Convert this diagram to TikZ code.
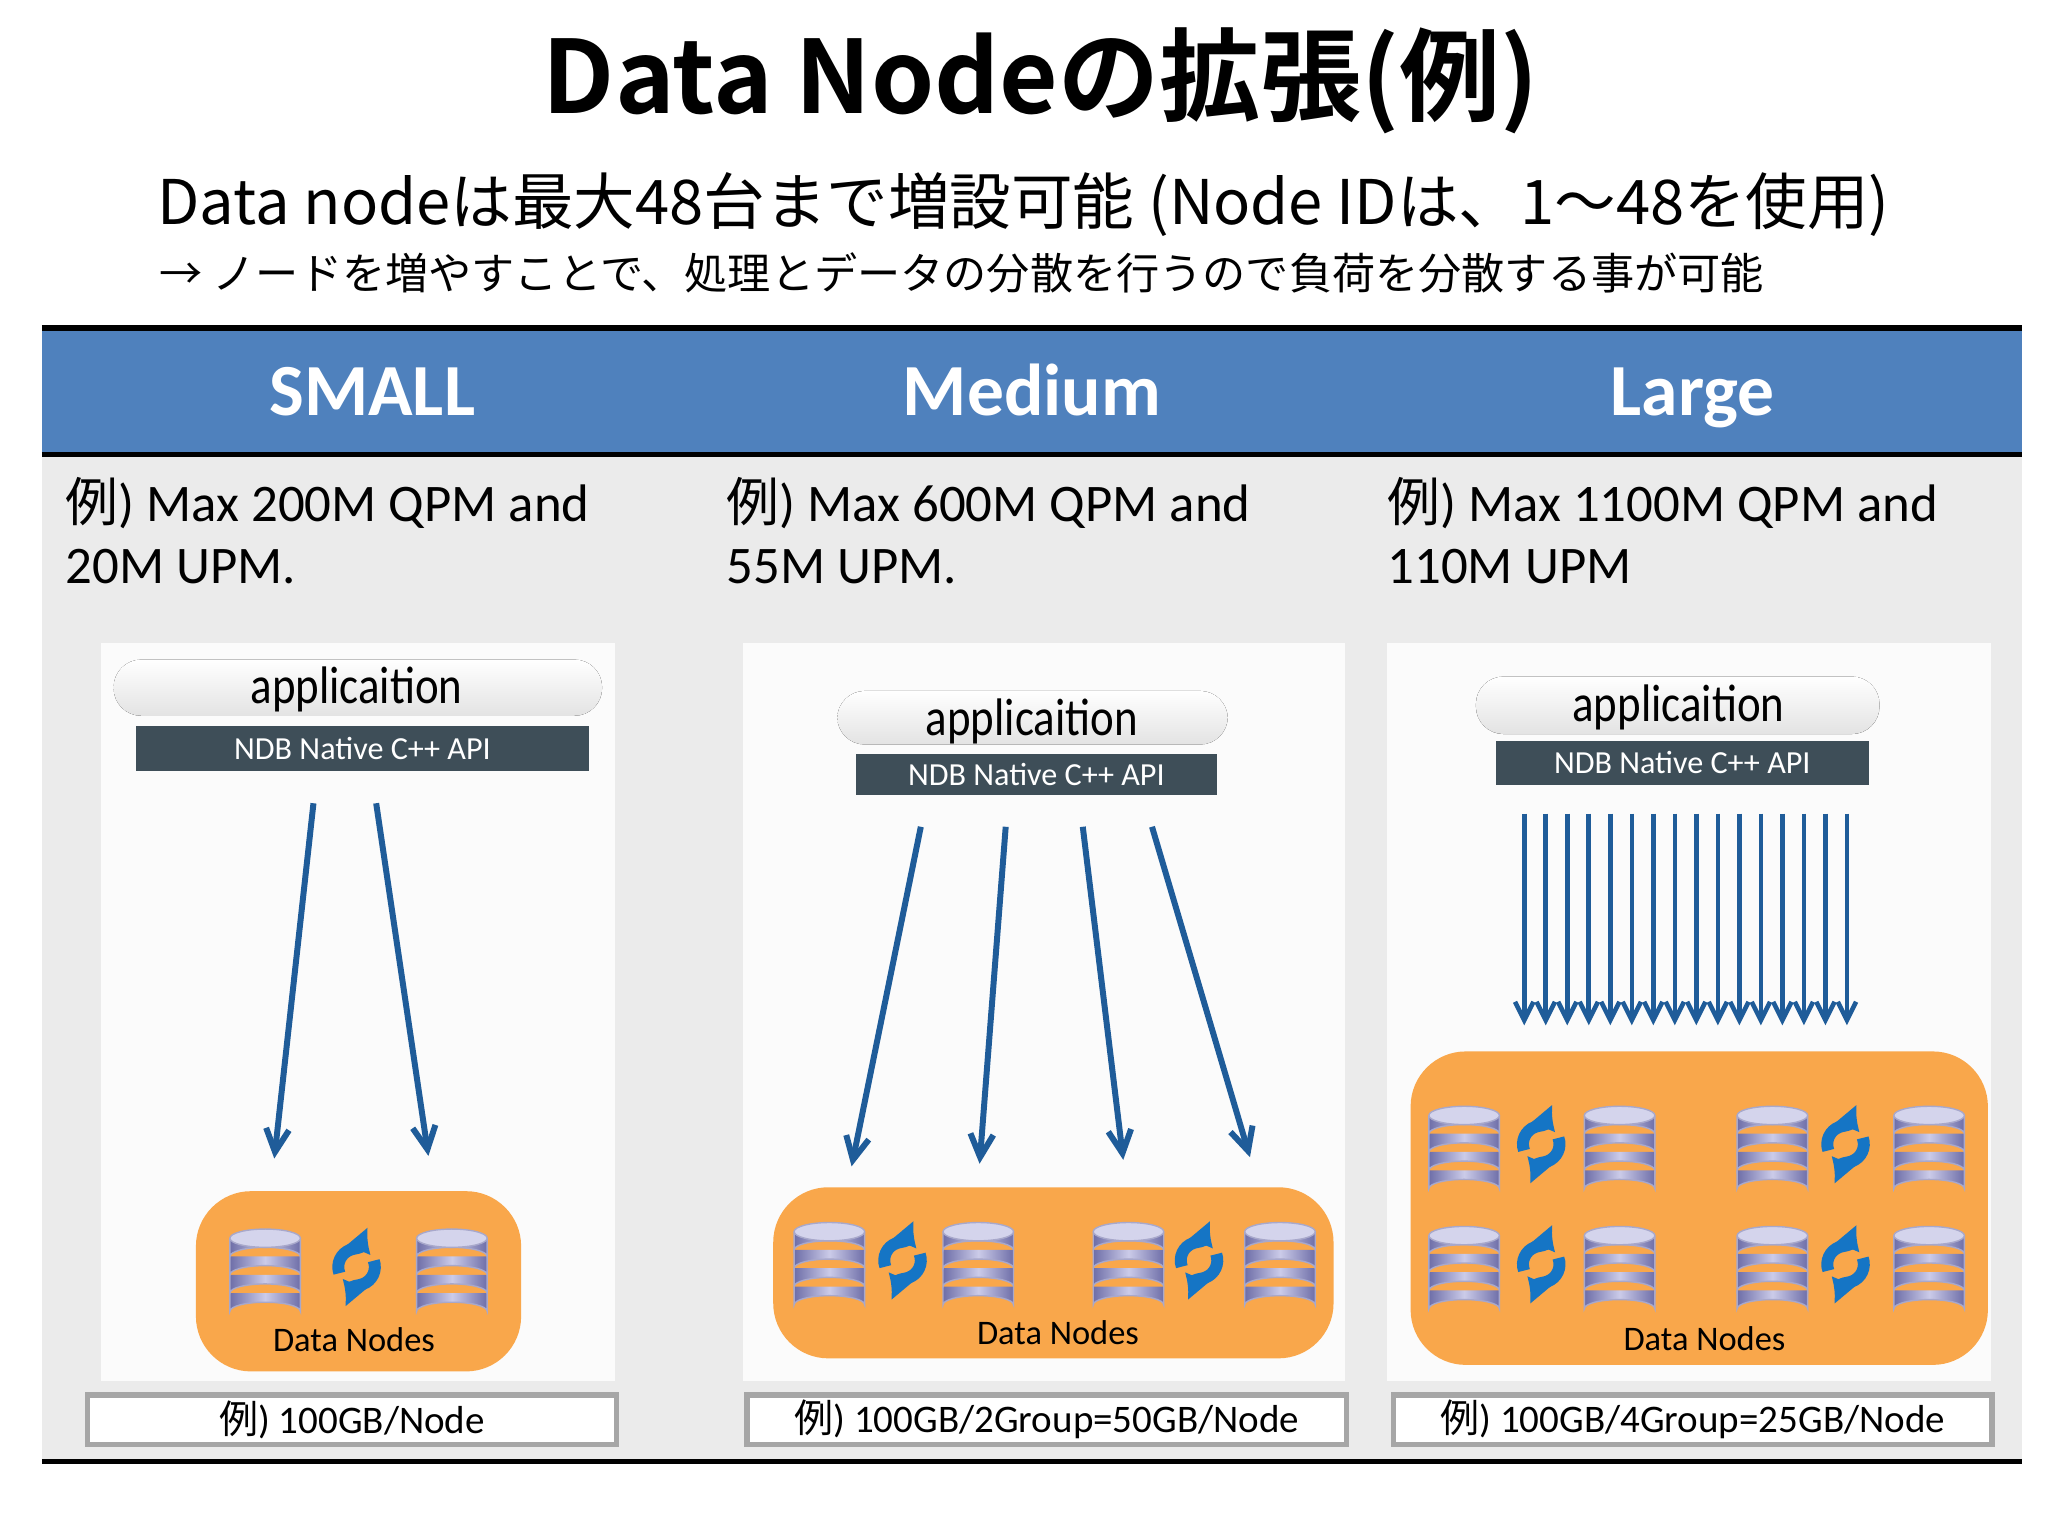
\documentclass[tikz,border=0pt]{standalone}
\usepackage{fontspec}
\setmainfont{Carlito}
\newfontfamily\jpf{Noto Sans CJK JP}
\newfontfamily\jpb{Noto Sans CJK JP Bold}
\newcommand{\jp}[1]{{\jpf #1}}
\usetikzlibrary{arrows.meta}
\definecolor{hblue}{HTML}{4F81BD}
\definecolor{abl}{HTML}{1F5C99}
\definecolor{org}{HTML}{F9A74B}
\definecolor{bar}{HTML}{3E4E58}
\definecolor{grayb}{HTML}{EBEBEB}
\definecolor{dbf}{HTML}{A9A9DA}
\definecolor{dbd}{HTML}{6E6EA8}
\begin{document}
\begin{tikzpicture}[x=0.01cm,y=-0.01cm,
 arr/.style={draw=abl,line width=1.3pt,-{Straight Barb[length=5pt,width=5pt]}},
 larr/.style={draw=abl,line width=1pt,-{Straight Barb[length=4pt,width=4pt]}},
 head/.style={text=white,font=\fontsize{16}{18}\selectfont\bfseries,anchor=base},
 perf/.style={anchor=west,font=\fontsize{11.5}{14}\selectfont},
 pill/.style={draw=none,rounded corners=6pt,top color=white,bottom color=gray!22},
 app/.style={font=\fontsize{11.5}{13}\selectfont,xscale=0.85},
 bar/.style={fill=bar,text=white,font=\fontsize{7}{8}\selectfont,inner sep=0pt},
 orgb/.style={fill=org,rounded corners=12pt},
 lab/.style={draw=gray!70,line width=1.2pt,fill=white,font=\fontsize{8.5}{10}\selectfont,inner sep=0pt}]
\useasboundingbox (0,0) rectangle (1568,1176);
\fill[white] (0,0) rectangle (1568,1176);
\tikzset{db/.pic={
  \foreach \k in {3,2,1}{
   \shade[left color=dbd,right color=dbd,middle color=dbf!60!white,draw=dbd!60,line width=0.3pt] (-27,{-24+\k*14}) -- (-27,{-10+\k*14}) arc[start angle=180,end angle=360,x radius=27,y radius=7] -- (27,{-24+\k*14});
  }
  \shade[left color=dbd,right color=dbd,middle color=dbf!60!white,draw=dbd!60,line width=0.3pt] (-27,-24) -- (-27,-10) arc[start angle=180,end angle=360,x radius=27,y radius=7] -- (27,-24);
  \fill[dbf!50!white,draw=dbd!60,line width=0.3pt] (0,-24) ellipse[x radius=27,y radius=7];
 },
 sync/.pic={
  \draw[cyan!55!blue,line width=2.6pt,-{Latex[length=5pt,width=7pt]}] (160:14) arc[start angle=160,end angle=320,radius=14];
  \draw[cyan!55!blue,line width=2.6pt,-{Latex[length=5pt,width=7pt]}] (340:14) arc[start angle=340,end angle=500,radius=14];
 }}
% title
\node[font=\jpb\fontsize{22}{26}\selectfont] (title) at (797,62) {Data Nodeの拡張(例)};
\node[anchor=west,font=\jpf\fontsize{13.4}{16}\selectfont] (sub1) at (108,157) {Data nodeは最大48台まで増設可能 (Node IDは、1～48を使用)};
\node[anchor=west,font=\jpf\fontsize{9.4}{12}\selectfont] (sub2) at (110,209) {→ ノードを増やすことで、処理とデータの分散を行うので負荷を分散する事が可能};
% band
\fill[grayb] (32,350) rectangle (1548,1118);
\fill[hblue] (32,252) rectangle (1548,347);
\draw[line width=1.2pt] (32,251) -- (1548,251);
\draw[line width=1.2pt] (32,348) -- (1548,348);
\draw[line width=1.2pt] (32,1119) -- (1548,1119);
\node[head] (h1) at (285,318) {SMALL};
\node[head] (h2) at (790,318) {Medium};
\node[head] (h3) at (1296,318) {Large};
\node[perf] (p1) at (38,385) {\jp{例}) Max 200M QPM and};
\node[perf] (p1b) at (38,434) {20M UPM.};
\node[perf] (p2) at (544,385) {\jp{例}) Max 600M QPM and};
\node[perf] (p2b) at (544,434) {55M UPM.};
\node[perf] (p3) at (1050,385) {\jp{例}) Max 1100M QPM and};
\node[perf] (p3b) at (1050,434) {110M UPM};
% panels
\fill[white!97!gray] (77,492) rectangle (471,1057);
\fill[white!97!gray] (569,492) rectangle (1030,1057);
\fill[white!97!gray] (1062,492) rectangle (1524,1057);
% SMALL
\fill[pill] (87,505) rectangle (461,548);
\node[app] (a1) at (273,528) {applicaition};
\node[bar,minimum width=347*0.01cm,minimum height=34*0.01cm] (n1) at (277.5,573) {NDB Native C++ API};
\coordinate (s1a) at (240,615); \coordinate (e1a) at (210,887);
\coordinate (s1b) at (288,615); \coordinate (e1b) at (328,885);
\draw[arr] (s1a) -- (e1a); \draw[arr] (s1b) -- (e1b);
\fill[orgb] (150,912) rectangle (399,1050);
\pic at (203,972) {db}; \pic at (346,972) {db}; \pic at (273,970) {sync};
\node[font=\fontsize{7.5}{9}\selectfont] (d1) at (271,1026) {Data Nodes};
% Medium
\fill[pill] (641,529) rectangle (940,570);
\node[app] (a2) at (790,552) {applicaition};
\node[bar,minimum width=277*0.01cm,minimum height=32*0.01cm] (n2) at (793.5,593) {NDB Native C++ API};
\foreach \sx/\ex/\ey [count=\i] in {705/652/893,770/750/891,829/860/888,882/957/886}{
  \coordinate (ms\i) at (\sx,633); \coordinate (me\i) at (\ex,\ey);
  \draw[arr] (ms\i) -- (me\i);}
\fill[orgb] (592,909) rectangle (1021,1040);
\foreach \x in {635,749,864,980}{\pic at (\x,967) {db};}
\pic at (691,965) {sync}; \pic at (918,965) {sync};
\node[font=\fontsize{7.5}{9}\selectfont] (d2) at (810,1020) {Data Nodes};
% Large
\fill[pill] (1130,518) rectangle (1439,562);
\node[app] (a3) at (1285,542) {applicaition};
\node[bar,minimum width=286*0.01cm,minimum height=34*0.01cm] (n3) at (1288,584) {NDB Native C++ API};
\foreach \i in {0,...,15}{
  \coordinate (ls\i) at ({1167+\i*16.47},623); \coordinate (le\i) at ({1167+\i*16.47},785);
  \draw[larr] (ls\i) -- (le\i);}
\fill[orgb] (1080,805) rectangle (1522,1045);
\foreach \y in {878,970}{
 \foreach \x in {1121,1240,1357,1477}{\pic at (\x,\y) {db};}
 \pic at (1180,\y-2) {sync}; \pic at (1413,\y-2) {sync};}
\node[font=\fontsize{7.5}{9}\selectfont] (d3) at (1305,1025) {Data Nodes};
% labels
\node[lab,minimum width=405*0.01cm,minimum height=38*0.01cm] (l1) at (269.5,1087) {\jp{例}) 100GB/Node};
\node[lab,minimum width=459*0.01cm,minimum height=38*0.01cm] (l2) at (801.5,1087) {\jp{例}) 100GB/2Group=50GB/Node};
\node[lab,minimum width=458*0.01cm,minimum height=38*0.01cm] (l3) at (1296,1087) {\jp{例}) 100GB/4Group=25GB/Node};
\end{tikzpicture}
\end{document}
